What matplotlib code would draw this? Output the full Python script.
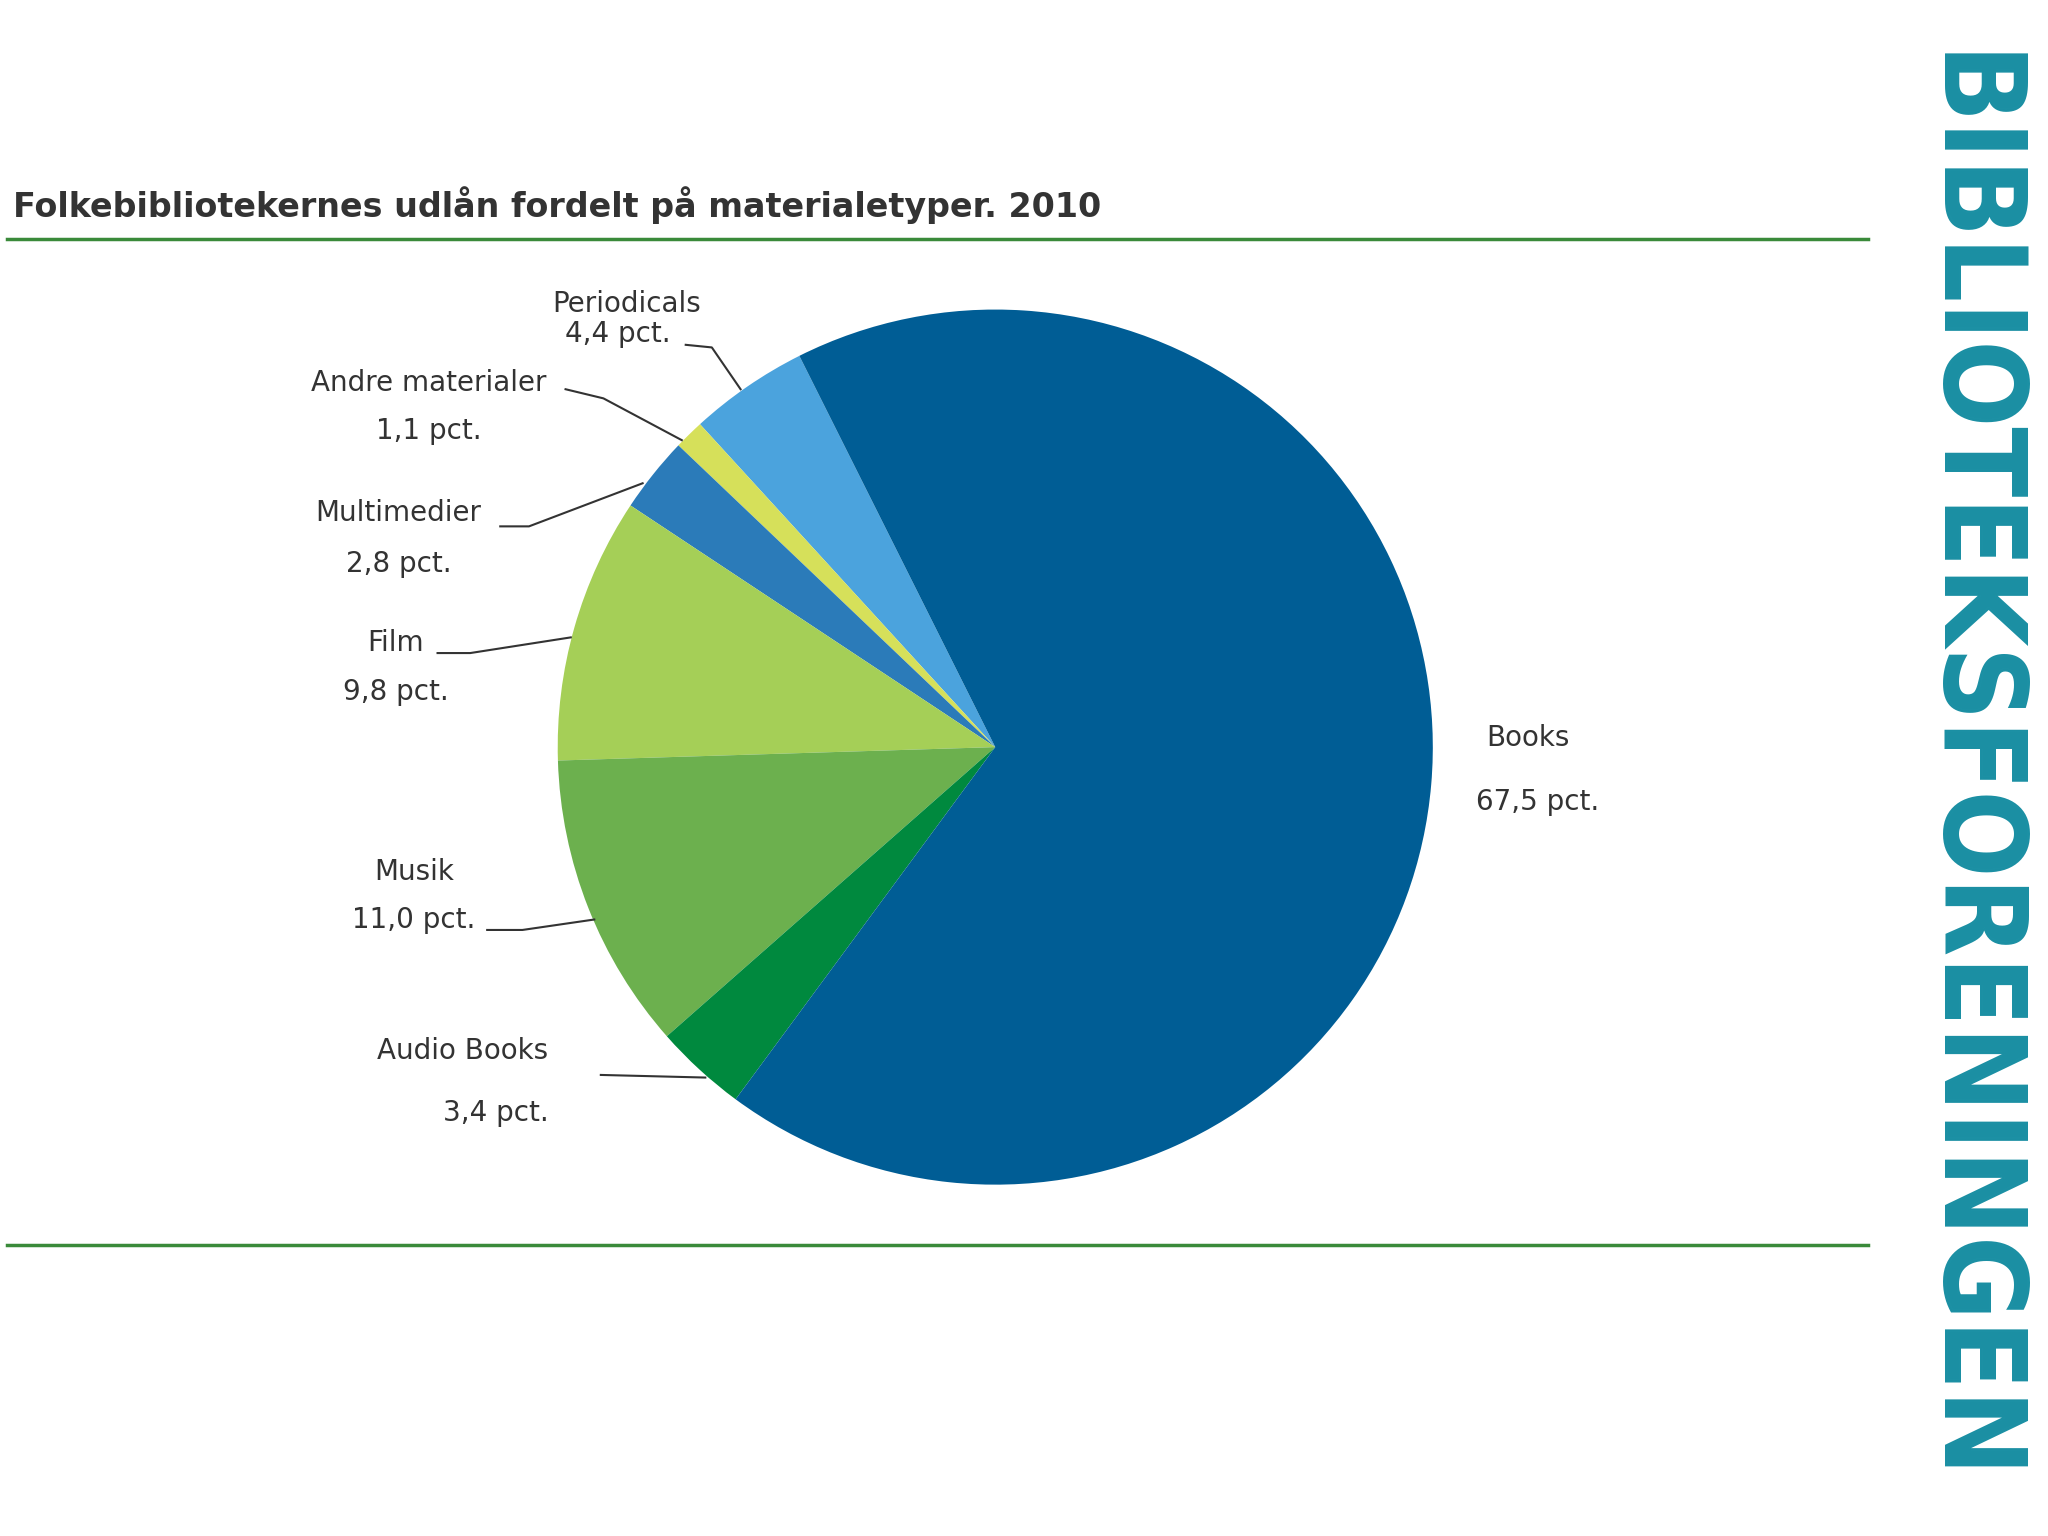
import matplotlib.pyplot as plt

# values (pct.), counterclockwise from the top boundary of Books
categories = ["Periodicals", "Andre materialer", "Multimedier", "Film", "Musik", "Audio Books", "Books"]
values = [4.4, 1.1, 2.8, 9.8, 11.0, 3.4, 67.5]
colors = ["#4ba3dd", "#d6e05a", "#2b7bb9", "#a5cf57", "#6cb04e", "#00893e", "#005d95"]

W, H = 1568, 1176
fig = plt.figure(figsize=(20.48, 15.36), dpi=100)
ax = fig.add_axes([0, 0, 1, 1])
ax.set_xlim(0, W)
ax.set_ylim(0, H)
ax.axis("off")

def Y(y):
    return H - y

ax.pie(values, colors=colors, startangle=116.6, counterclock=True,
       center=(762, Y(572)), radius=335, frame=True,
       wedgeprops=dict(linewidth=0))
ax.set_xlim(0, W)
ax.set_ylim(0, H)
ax.set_aspect("equal")
ax.axis("off")

ax.text(10, Y(157), "Folkebibliotekernes udlån fordelt på materialetyper. 2010",
        fontsize=24, fontweight="bold", color="#333333", va="center")
for yy in (183, 953):
    ax.plot([5, 1430], [Y(yy), Y(yy)], color="#3a8a3a", lw=2.5)

lab = dict(fontsize=20, color="#333333", ha="center", va="center")
ax.text(480, Y(233), "Periodicals", **lab)
ax.text(473, Y(256), "4,4 pct.", **lab)
ax.plot([525, 545, 567], [Y(264), Y(266), Y(298)], color="#333", lw=1.5)
ax.text(328, Y(293), "Andre materialer", **lab)
ax.text(328, Y(330), "1,1 pct.", **lab)
ax.plot([433, 462, 522], [Y(298), Y(305), Y(337)], color="#333", lw=1.5)
ax.text(305, Y(393), "Multimedier", **lab)
ax.text(305, Y(432), "2,8 pct.", **lab)
ax.plot([383, 405, 492], [Y(403), Y(403), Y(370)], color="#333", lw=1.5)
ax.text(303, Y(492), "Film", **lab)
ax.text(303, Y(530), "9,8 pct.", **lab)
ax.plot([335, 360, 437], [Y(500), Y(500), Y(488)], color="#333", lw=1.5)
ax.text(317, Y(668), "Musik", **lab)
ax.text(317, Y(704), "11,0 pct.", **lab)
ax.plot([373, 400, 455], [Y(712), Y(712), Y(704)], color="#333", lw=1.5)
ax.text(354, Y(805), "Audio Books", **lab)
ax.text(380, Y(852), "3,4 pct.", **lab)
ax.plot([460, 540], [Y(823), Y(825)], color="#333", lw=1.5)
ax.text(1170, Y(565), "Books", **lab)
ax.text(1177, Y(614), "67,5 pct.", **lab)

ax.text(1505, Y(588), "BIBLIOTEKSFORENINGEN", rotation=-90, fontsize=82,
        fontweight="bold", color="#1a8fa3", ha="center", va="center",
        fontstretch="condensed")

fig.savefig("out.png", dpi=100)
